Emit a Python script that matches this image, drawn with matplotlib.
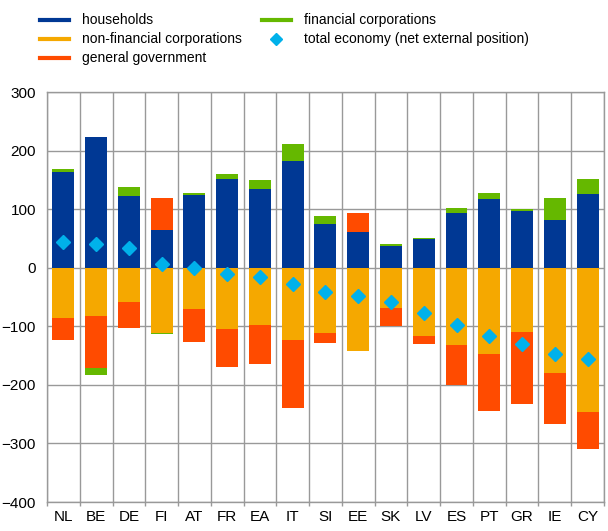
import numpy as np
import matplotlib
matplotlib.use("Agg")
import matplotlib.pyplot as plt
from matplotlib.lines import Line2D

plt.rcParams['font.family'] = ['Liberation Sans', 'DejaVu Sans']
plt.rcParams['font.size'] = 9

countries = ['NL', 'BE', 'DE', 'FI', 'AT', 'FR', 'EA', 'IT', 'SI', 'EE', 'SK',
             'LV', 'ES', 'PT', 'GR', 'IE', 'CY']
households = [164, 223, 123, 64, 124, 152, 135, 183, 75, 61, 37, 49, 94, 117, 97, 82, 126]
non_fin_corp = [-85, -82, -59, -111, -70, -104, -98, -123, -111, -142, -68, -117, -132, -148, -110, -180, -246]
general_gov = [-39, -89, -44, 55, -57, -66, -66, -117, -18, 33, -32, -14, -69, -96, -123, -86, -63]
fin_corp = [5, -13, 14, -3, 3, 8, 14, 29, 13, 0, 3, 1, 8, 11, 4, 37, 26]
total_economy = [44, 40, 34, 6, -1, -10, -15, -28, -41, -48, -58, -78, -97, -116, -131, -147, -155]

colors = {
    'households': '#003894',
    'nfc': '#F5A800',
    'gov': '#FF4B00',
    'fin': '#65B800',
    'total': '#00B1EA',
}

fig = plt.figure(figsize=(6.08, 5.31), dpi=100)
ax = fig.add_axes([0.0773, 0.0546, 0.916, 0.7721])

x = np.arange(len(countries))
pos = np.zeros(len(countries))
neg = np.zeros(len(countries))
series = [(households, colors['households']), (non_fin_corp, colors['nfc']),
          (general_gov, colors['gov']), (fin_corp, colors['fin'])]
for vals, col in series:
    v = np.array(vals, dtype=float)
    bottom = np.where(v >= 0, pos, neg)
    ax.bar(x, v, width=0.67, bottom=bottom, color=col, zorder=3, linewidth=0)
    pos = pos + np.where(v >= 0, v, 0)
    neg = neg + np.where(v < 0, v, 0)

ax.plot(x, total_economy, linestyle='none', marker='D', markersize=7,
        color=colors['total'], zorder=4)

ax.set_xlim(-0.5, len(countries) - 0.5)
ax.set_ylim(-400, 300)
ax.set_yticks(np.arange(-400, 301, 100))
ax.set_xticks(x)
ax.set_xticklabels(countries, fontsize=11)
ax.tick_params(axis='y', labelsize=11, length=0, pad=8)
ax.tick_params(axis='x', which='major', length=0, pad=6)
ax.set_xticks(np.arange(-0.5, len(countries), 1), minor=True)
ax.tick_params(axis='x', which='minor', length=3, color='#999999', width=1)
ax.grid(axis='y', color='#999999', linewidth=1, zorder=0)
ax.grid(axis='x', which='minor', color='#999999', linewidth=1, zorder=0)
for s in ax.spines.values():
    s.set_color('#999999')
    s.set_linewidth(1)

handles = [
    Line2D([], [], color=colors['households'], linewidth=3),
    Line2D([], [], color=colors['nfc'], linewidth=3),
    Line2D([], [], color=colors['gov'], linewidth=3),
    Line2D([], [], color=colors['fin'], linewidth=3),
    Line2D([], [], color=colors['total'], linestyle='none', marker='D', markersize=6),
]
labels = ['households', 'non-financial corporations', 'general government',
          'financial corporations', 'total economy (net external position)']
fig.legend(handles, labels, ncol=2, loc='upper left', bbox_to_anchor=(0.05, 0.993),
           frameon=False, fontsize=10, handlelength=2.1, handletextpad=0.95,
           columnspacing=1.4, labelspacing=0.36, borderaxespad=0.3)

fig.savefig('out.png', dpi=100)
